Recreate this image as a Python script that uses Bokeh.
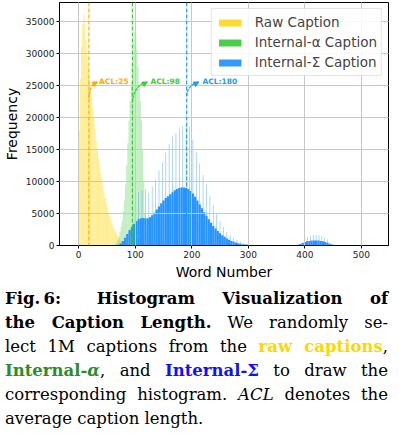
from bokeh.plotting import figure
from bokeh.models import (Span, Arrow, NormalHead, Legend, LegendItem, Div,
                          Range1d, FixedTicker, Label)
from bokeh.layouts import column
from bokeh.core.properties import value
from bokeh.embed import file_html
from bokeh.resources import INLINE

# ---------------- data ----------------
raw_bins = list(range(1, 88, 2))
raw_counts = [18000, 26000, 31000, 34500, 36100, 34500, 32000, 29800, 27800, 26000,
              24500, 23000, 21500, 20000, 18300, 16300, 14800, 13600, 12400, 11300,
              10300, 9300, 8200, 7400, 6600, 5800, 5100, 4600, 4000, 3500,
              3000, 2500, 2100, 1800, 1450, 1150, 850, 620, 430, 300,
              200, 120, 60, 30]

alpha_bins = list(range(65, 132, 2))
alpha_counts = [200, 400, 800, 1400, 2100, 2900, 3900, 5300, 7000, 9500,
                12500, 16000, 19500, 22500, 25500, 28200, 31500, 33300, 32800, 30500,
                27800, 25000, 22500, 19500, 15000, 10000, 5000, 2800, 1800, 1100,
                700, 400, 200, 100]

sigma_bins = list(range(70, 307, 4))
sigma_counts = [100, 300, 700, 1200, 1800, 2400, 2900, 3400, 3800, 4100,
                4250, 4300, 4250, 4250, 4400, 4700, 5100, 5600, 6100, 6600,
                7000, 7400, 7700, 8000, 8300, 8600, 8800, 8950, 9050, 9050,
                8950, 8800, 8500, 8100, 7600, 7000, 6400, 5800, 5200, 4650,
                4100, 3550, 3050, 2650, 2250, 1900, 1600, 1350, 1100, 900,
                720, 580, 460, 360, 280, 210, 150, 100, 60, 30]

sigma_tail_bins = list(range(388, 453, 4))
sigma_tail_counts = [100, 250, 400, 550, 650, 720, 770, 790, 790, 770,
                     720, 650, 550, 420, 280, 150, 60]

sigma_spike_words = [100, 106, 112, 118, 124, 130, 136, 142, 148, 154,
                     160, 166, 172, 178, 184, 190, 196, 202, 208, 214,
                     220, 226, 232, 238, 244, 250, 256, 262, 268, 274,
                     280, 286, 292, 298,
                     400, 405, 410, 415, 420, 425, 430, 435, 440]
sigma_spike_counts = [6500, 8300, 8600, 8800, 8200, 9200, 10300, 11700, 13000, 14500,
                      15800, 17000, 17500, 18200, 18600, 18900, 18500, 16500, 14500, 12800,
                      11000, 9500, 7800, 6300, 4900, 3800, 2900, 2100, 1600, 1200,
                      900, 600, 400, 250,
                      1000, 1300, 1450, 1600, 1650, 1600, 1450, 1200, 950]

acl_line_words = [18, 95, 191]
acl_labels = ["ACL:25", "ACL:98", "ACL:180"]
series_names = ["Raw Caption", "Internal-\u03b1 Caption", "Internal-\u03a3 Caption"]

x_ticks = [0, 100, 200, 300, 400, 500]
y_ticks = [0, 5000, 10000, 15000, 20000, 25000, 30000, 35000]

# ---------------- styles ----------------
FONT = "DejaVu Sans"
legend_colors = ["#FFD92E", "#4CCC4C", "#3399FF"]
line_colors = ["#FFB300", "#33CC33", "#1E9FE6"]
label_colors = ["#FFAA00", "#3DCC3D", "#1E9BE8"]

fig = figure(frame_width=329, frame_height=243,
             x_range=Range1d(-34, 548), y_range=Range1d(0, 37900),
             output_backend="svg", toolbar_location=None,
             min_border_left=4, min_border_right=1, min_border_top=2, min_border_bottom=4)
fig.background_fill_color = "white"
fig.border_fill_color = "white"
fig.outline_line_color = "black"
fig.outline_line_width = 1
fig.outline_line_alpha = 1

# histograms
fig.vbar(x=raw_bins, top=raw_counts, width=2, bottom=0,
         fill_color="#FFD700", fill_alpha=0.42, line_color=None)
fig.vbar(x=alpha_bins, top=alpha_counts, width=2, bottom=0,
         fill_color="#3CC83C", fill_alpha=0.3, line_color=None)
fig.vbar(x=sigma_bins, top=sigma_counts, width=4, bottom=0,
         fill_color="#2894FF", fill_alpha=1.0, line_color=None)
fig.vbar(x=sigma_tail_bins, top=sigma_tail_counts, width=4, bottom=0,
         fill_color="#2894FF", fill_alpha=1.0, line_color=None)
fig.vbar(x=sigma_spike_words, top=sigma_spike_counts, width=1.2, bottom=0,
         fill_color="#2894FF", fill_alpha=0.55, line_color=None)

# legend swatches (zero-height bars, only their legend patch is visible)
legend_renderers = []
for c, xs in zip(legend_colors, (raw_bins, alpha_bins, sigma_bins)):
    legend_renderers.append(fig.vbar(x=xs[:1], top=[0], bottom=0, width=1,
                                     fill_color=c, line_color=None))

# ACL lines and annotations
arrow_start_y = [23000, 22300, 23300]
arrow_ctrl_dx = [1.5, 2.5, 2]
arrow_ctrl_y = [25100, 25000, 25100]
arrow_end_dx = [14, 25, 20]
arrow_end_y = [25450, 25450, 25450]
text_dx = [18, 32, 28]
text_y = 25600

for i, xw in enumerate(acl_line_words):
    fig.add_layout(Span(location=xw, dimension="height", line_color=line_colors[i],
                        line_dash="4 2", line_width=1.2))
    q = fig.quadratic(x0=[xw], y0=[arrow_start_y[i]], cx=[xw + arrow_ctrl_dx[i]],
                      cy=[arrow_ctrl_y[i]], x1=[xw + arrow_end_dx[i]], y1=[arrow_end_y[i]],
                      line_color=label_colors[i], line_width=1.3, line_dash=value("3 1"))
    q.level = "annotation"
    ex = xw + arrow_end_dx[i]
    fig.add_layout(Arrow(end=NormalHead(size=5, fill_color=label_colors[i],
                                        line_color=label_colors[i]),
                         x_start=ex - 3, y_start=arrow_end_y[i] - 150,
                         x_end=ex + 1.5, y_end=arrow_end_y[i] + 60,
                         line_color=label_colors[i], line_width=1))
    fig.add_layout(Label(x=xw + text_dx[i], y=text_y, text=acl_labels[i],
                         text_color=label_colors[i], text_font=FONT,
                         text_font_size="7.5px", text_font_style="bold",
                         text_baseline="middle", text_align="left"))

# axes
for ax in (fig.xaxis[0], fig.yaxis[0]):
    ax.major_label_text_font = FONT
    ax.major_label_text_font_size = "9px"
    ax.major_label_text_color = "#222222"
    ax.axis_label_text_font = FONT
    ax.axis_label_text_font_size = "14px"
    ax.axis_label_text_font_style = "normal"
    ax.axis_label_text_color = "black"
    ax.axis_line_color = "black"
    ax.major_tick_line_color = "black"
    ax.major_tick_out = 3
    ax.major_tick_in = 0
    ax.minor_tick_line_color = None
    ax.major_label_standoff = 2
    ax.axis_label_standoff = 3
fig.xaxis.ticker = FixedTicker(ticks=x_ticks)
fig.yaxis.ticker = FixedTicker(ticks=y_ticks)
fig.xaxis.axis_label = "Word Number"
fig.yaxis.axis_label = "Frequency"

for g in (fig.xgrid[0], fig.ygrid[0]):
    g.grid_line_color = "#c8c8c8"
    g.grid_line_width = 1
    g.level = "guide"
fig.xgrid.ticker = FixedTicker(ticks=x_ticks)
fig.ygrid.ticker = FixedTicker(ticks=y_ticks)

legend = Legend(items=[LegendItem(label=series_names[i], renderers=[legend_renderers[i]])
                       for i in range(3)],
                location="top_right", margin=6, padding=4, spacing=2,
                label_height=18, glyph_height=9, glyph_width=28, label_standoff=11,
                label_text_font=FONT, label_text_font_size="13.5px",
                border_line_color="#cccccc", border_line_width=1,
                background_fill_color="white", background_fill_alpha=0.85)
fig.add_layout(legend)

caption_html = """
<div style="font-family:'DejaVu Serif'; font-size:16.5px; line-height:24px; color:#000; width:383px;">
<div style="text-align:justify; text-align-last:justify;"><b>Fig.&#8201;6:&ensp; Histogram Visualization of</b></div>
<div style="text-align:justify; text-align-last:justify;"><b>the Caption Length.</b> We randomly se-</div>
<div style="text-align:justify; text-align-last:justify;">lect 1M captions from the <b style="color:#FFD700;">raw captions</b>,</div>
<div style="text-align:justify; text-align-last:justify;"><b style="color:#2A8C2A;">Internal-<i>&#945;</i></b>, and <b style="color:#1010FF;">Internal-&#931;</b> to draw the</div>
<div style="text-align:justify; text-align-last:justify;">corresponding histogram. <i>ACL</i> denotes the</div>
<div style="text-align:left;">average caption length.</div>
</div>
"""
div = Div(text=caption_html, width=383, height=144)

p = column(fig, div, spacing=0)

open("out.html", "w").write(file_html(p, INLINE))
